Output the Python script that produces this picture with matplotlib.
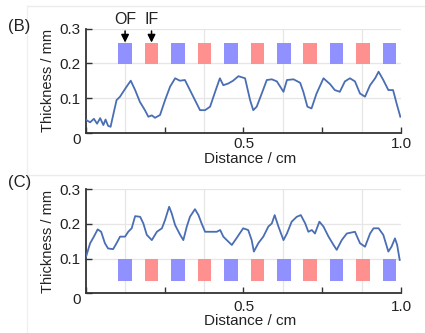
import matplotlib
matplotlib.use("Agg")
import matplotlib.pyplot as plt

plt.rcParams["font.family"] = ["Liberation Sans", "DejaVu Sans"]

# ── data ─────────────────────────────────────────────────────────────────────
b_x = [0.000, 0.013, 0.025, 0.035, 0.045, 0.055, 0.062, 0.070, 0.078, 0.085,
       0.097, 0.108, 0.118, 0.129, 0.142, 0.156, 0.171, 0.187, 0.198, 0.209,
       0.219, 0.235, 0.251, 0.267, 0.283, 0.298, 0.314, 0.330, 0.346, 0.362,
       0.378, 0.394, 0.410, 0.425, 0.436, 0.452, 0.467, 0.484, 0.505, 0.521,
       0.531, 0.542, 0.558, 0.574, 0.590, 0.606, 0.627, 0.638, 0.659, 0.680,
       0.690, 0.703, 0.716, 0.732, 0.754, 0.775, 0.790, 0.806, 0.822, 0.838,
       0.854, 0.870, 0.886, 0.902, 0.918, 0.929, 0.944, 0.960, 0.975, 0.986,
       0.998]
b_y = [0.037, 0.030, 0.040, 0.026, 0.042, 0.022, 0.038, 0.020, 0.017, 0.046,
       0.094, 0.104, 0.118, 0.133, 0.150, 0.123, 0.089, 0.065, 0.046, 0.050,
       0.043, 0.051, 0.094, 0.133, 0.157, 0.150, 0.152, 0.123, 0.094, 0.065,
       0.065, 0.075, 0.118, 0.157, 0.137, 0.142, 0.150, 0.163, 0.157, 0.094,
       0.065, 0.075, 0.113, 0.152, 0.154, 0.148, 0.118, 0.152, 0.154, 0.144,
       0.118, 0.075, 0.070, 0.113, 0.157, 0.140, 0.123, 0.118, 0.148, 0.157,
       0.148, 0.113, 0.104, 0.137, 0.157, 0.176, 0.152, 0.123, 0.123, 0.085,
       0.046]

c_x = [0.000, 0.013, 0.025, 0.037, 0.048, 0.060, 0.070, 0.086, 0.097, 0.108,
       0.124, 0.134, 0.145, 0.156, 0.172, 0.182, 0.193, 0.209, 0.225, 0.241,
       0.251, 0.264, 0.272, 0.283, 0.299, 0.309, 0.320, 0.330, 0.346, 0.357,
       0.367, 0.378, 0.399, 0.415, 0.426, 0.436, 0.447, 0.463, 0.479, 0.499,
       0.515, 0.526, 0.533, 0.547, 0.563, 0.579, 0.590, 0.599, 0.611, 0.627,
       0.638, 0.653, 0.669, 0.682, 0.696, 0.706, 0.717, 0.727, 0.741, 0.754,
       0.770, 0.786, 0.796, 0.812, 0.828, 0.854, 0.870, 0.886, 0.902, 0.913,
       0.929, 0.944, 0.960, 0.970, 0.981, 0.988, 0.996]
c_y = [0.105, 0.144, 0.163, 0.184, 0.177, 0.144, 0.129, 0.127, 0.144, 0.163,
       0.163, 0.177, 0.187, 0.222, 0.220, 0.201, 0.168, 0.153, 0.177, 0.187,
       0.211, 0.249, 0.230, 0.196, 0.168, 0.153, 0.192, 0.220, 0.242, 0.225,
       0.201, 0.177, 0.177, 0.177, 0.182, 0.163, 0.153, 0.139, 0.160, 0.187,
       0.182, 0.153, 0.120, 0.144, 0.163, 0.192, 0.201, 0.225, 0.192, 0.153,
       0.172, 0.206, 0.220, 0.225, 0.201, 0.177, 0.182, 0.172, 0.206, 0.192,
       0.163, 0.139, 0.125, 0.153, 0.172, 0.177, 0.144, 0.134, 0.172, 0.187,
       0.187, 0.168, 0.120, 0.134, 0.158, 0.139, 0.096]

# flow-region markers: OF = outer fibre (blue), IF = inner fibre (red)
region_x    = [0.124, 0.208, 0.292, 0.376, 0.460, 0.544, 0.628, 0.712,
               0.796, 0.880, 0.964]
region_kind = ["OF", "IF", "OF", "IF", "OF", "IF", "OF", "IF", "OF", "IF", "OF"]
b_band = (0.198, 0.258)
c_band = (0.035, 0.098)

x_ticks  = [0.0, 0.25, 0.5, 0.75, 1.0]
x_labels = ["", "", "0.5", "", "1.0"]
y_ticks  = [0.0, 0.1, 0.2, 0.3]
y_labels = ["0", "0.1", "0.2", "0.3"]

# ── style ────────────────────────────────────────────────────────────────────
LINE   = "#4a6eb4"
BLUE   = "#9090ff"
RED    = "#ff9090"
GRID   = "#e6e6e6"
TXT    = "#222222"
SPINE  = "#333333"
RWIDTH = 0.043


def style_axes(ax, xlab_y, xtick_pad):
    ax.set_xlim(0, 1.0)
    ax.set_ylim(0, 0.3)
    for s in ("top", "right"):
        ax.spines[s].set_visible(False)
    for s in ("left", "bottom"):
        ax.spines[s].set_color(SPINE)
        ax.spines[s].set_linewidth(1.3)
    ax.set_xticks(x_ticks)
    ax.set_xticklabels(x_labels)
    ax.set_yticks(y_ticks)
    ax.set_yticklabels(y_labels)
    ax.set_xticks([0.125 * i for i in range(9)], minor=True)
    ax.tick_params(which="major", direction="in", length=4, width=1.0,
                   color=SPINE, labelsize=11, labelcolor=TXT)
    ax.tick_params(axis="x", which="major", pad=xtick_pad)
    ax.tick_params(axis="y", which="major", pad=4)
    ax.tick_params(which="minor", length=0)
    ax.grid(True, which="minor", axis="x", color=GRID, lw=0.9)
    ax.grid(True, which="major", axis="y", color=GRID, lw=0.9)
    ax.set_axisbelow(True)
    ax.yaxis.get_majorticklabels()[0].set_va("top")
    ax.set_ylabel("Thickness / mm", fontsize=10.5, color=TXT, va="center")
    ax.yaxis.set_label_coords(-0.122, 0.5)
    ax.set_xlabel("Distance / cm", fontsize=11, color=TXT, va="center")
    ax.xaxis.set_label_coords(0.52, xlab_y)


def draw_regions(ax, band):
    lo, hi = band
    for xc, kind in zip(region_x, region_kind):
        ax.bar(xc, hi - lo, bottom=lo, width=RWIDTH,
               color=BLUE if kind == "OF" else RED, zorder=2, lw=0)


fig = plt.figure(figsize=(4.25, 3.33), dpi=100)

# faint frame lines around the panels
for y0 in (1 - 6 / 333, 1 - 175 / 333):
    fig.add_artist(plt.Line2D([27 / 425, 1.0], [y0, y0], color="#ececec",
                              lw=1.0, transform=fig.transFigure))
fig.add_artist(plt.Line2D([27 / 425, 27 / 425], [0.0, 1 - 6 / 333],
                          color="#f0f0f0", lw=1.0, transform=fig.transFigure))

ax_b = fig.add_axes([0.2024, 0.6015, 0.741, 0.3123])
ax_c = fig.add_axes([0.2024, 0.1192, 0.741, 0.3132])

# ── (B) ──────────────────────────────────────────────────────────────────────
style_axes(ax_b, -0.25, 3)
draw_regions(ax_b, b_band)
ax_b.plot(b_x, b_y, color=LINE, lw=1.3, zorder=3)
for xc, lab in zip(region_x[:2], region_kind[:2]):
    ax_b.annotate(lab, xy=(xc, b_band[1] + 0.002), xytext=(xc, 0.327),
                  ha="center", va="center", fontsize=11.5, color=TXT,
                  annotation_clip=False,
                  arrowprops=dict(arrowstyle="-|>,head_length=0.4,head_width=0.2",
                                  color="black", lw=1.1, shrinkA=1, shrinkB=0))
fig.text(8 / 425, 1 - 26 / 333, "(B)", fontsize=12, color=TXT, va="center")

# ── (C) ──────────────────────────────────────────────────────────────────────
style_axes(ax_c, -0.265, 5)
draw_regions(ax_c, c_band)
ax_c.plot(c_x, c_y, color=LINE, lw=1.3, zorder=3)
fig.text(8 / 425, 1 - 182 / 333, "(C)", fontsize=12, color=TXT, va="center")

fig.savefig("out.png", dpi=100)
